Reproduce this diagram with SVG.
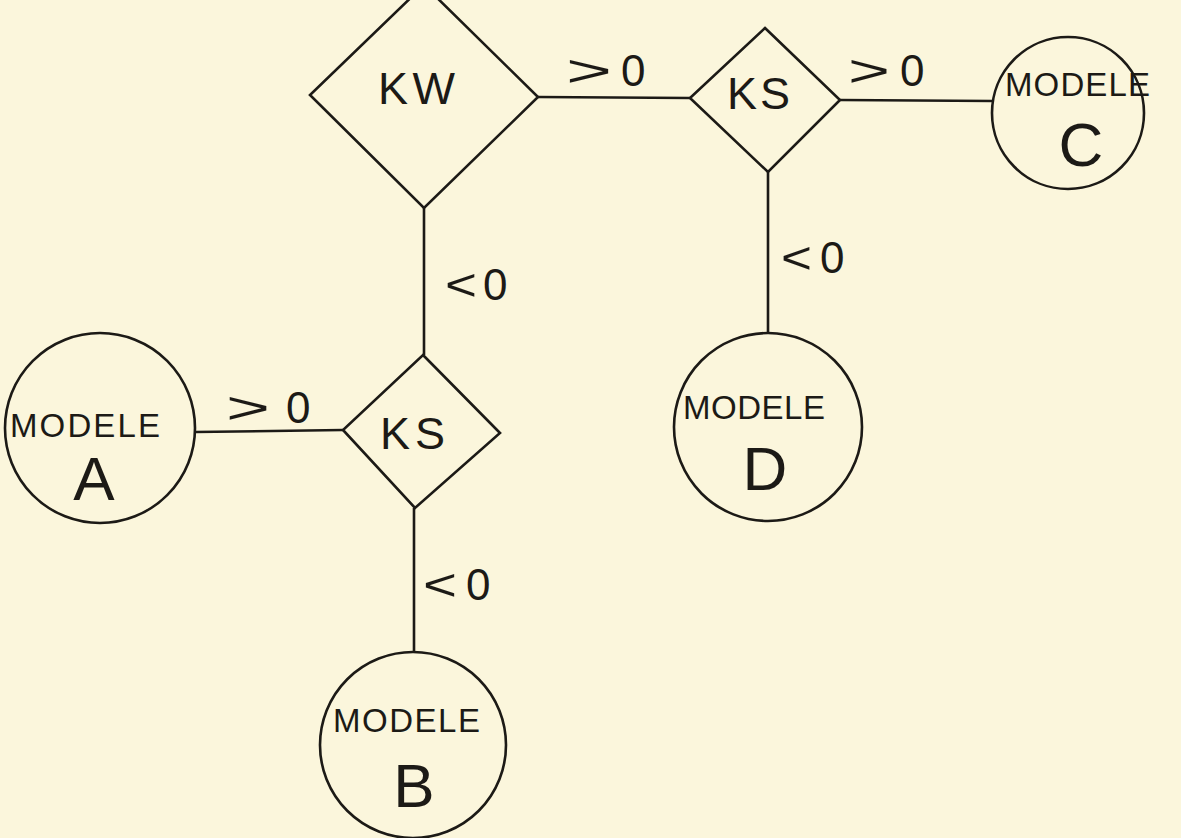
<svg xmlns="http://www.w3.org/2000/svg" width="1181" height="838" viewBox="0 0 1181 838">
<style>
.shape{fill:none;stroke:#1c1a16;stroke-width:2.6}
.conn line{stroke:#1c1a16;stroke-width:2.6}
text{font-family:"Liberation Sans","DejaVu Sans",sans-serif;fill:#1c1a16}
.m{font-size:33px}
.big{font-size:62px;text-anchor:middle}
.k{font-size:45px}
.lab{font-size:44px}
</style>
<rect width="1181" height="838" fill="#fbf6dc"/>
<g class="conn">
<line x1="538" y1="97" x2="690" y2="98"/>
<line x1="840" y1="100" x2="993" y2="101"/>
<line x1="768" y1="172" x2="768" y2="333"/>
<line x1="424" y1="208" x2="424" y2="355"/>
<line x1="195" y1="432" x2="343" y2="430"/>
<line x1="414" y1="508" x2="414" y2="653"/>
<text class="lab" x="566" y="86"><tspan textLength="46" lengthAdjust="spacingAndGlyphs">&gt;</tspan><tspan x="621">0</tspan></text>
<text class="lab" x="848" y="86"><tspan textLength="42" lengthAdjust="spacingAndGlyphs">&gt;</tspan><tspan x="900">0</tspan></text>
<text class="lab" x="781" y="273"><tspan textLength="31" lengthAdjust="spacingAndGlyphs">&lt;</tspan><tspan x="820">0</tspan></text>
<text class="lab" x="445" y="300"><tspan textLength="32" lengthAdjust="spacingAndGlyphs">&lt;</tspan><tspan x="483">0</tspan></text>
<text class="lab" x="423" y="600"><tspan textLength="34" lengthAdjust="spacingAndGlyphs">&lt;</tspan><tspan x="466">0</tspan></text>
<text class="lab" x="226" y="423"><tspan textLength="44" lengthAdjust="spacingAndGlyphs">&gt;</tspan><tspan x="286">0</tspan></text>
</g>
<g id="kw">
<polygon class="shape" points="424,-15 538,97 424,208 310,95"/>
<text class="k" x="378" y="104" textLength="77" lengthAdjust="spacing">KW</text>
</g>
<g id="ks1">
<polygon class="shape" points="765,28 840,100 768,172 690,98"/>
<text class="k" x="727" y="109" textLength="63" lengthAdjust="spacing">KS</text>
</g>
<g id="ks2">
<polygon class="shape" points="423,355 500,433 415,508 343,430"/>
<text class="k" x="380" y="449" textLength="65" lengthAdjust="spacing">KS</text>
</g>
<g id="modeleC">
<circle class="shape" cx="1068" cy="113" r="76"/>
<text class="m" x="1005" y="96" textLength="145" lengthAdjust="spacing">MODELE</text>
<text class="big" x="1081" y="166">C</text>
</g>
<g id="modeleD">
<circle class="shape" cx="768" cy="427" r="94"/>
<text class="m" x="683" y="419" textLength="142" lengthAdjust="spacing">MODELE</text>
<text class="big" x="765" y="490">D</text>
</g>
<g id="modeleA">
<circle class="shape" cx="100" cy="428" r="95"/>
<text class="m" x="10" y="437" textLength="150" lengthAdjust="spacing">MODELE</text>
<text class="big" x="94" y="500">A</text>
</g>
<g id="modeleB">
<circle class="shape" cx="413" cy="745" r="93"/>
<text class="m" x="333" y="732" textLength="147" lengthAdjust="spacing">MODELE</text>
<text class="big" x="414" y="807">B</text>
</g>
</svg>
